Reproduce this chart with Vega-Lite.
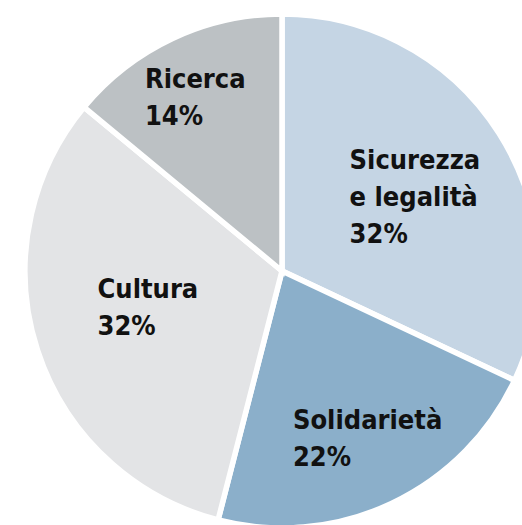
{
  "$schema": "https://vega.github.io/schema/vega-lite/v6.json",
  "width": 480,
  "height": 508,
  "autosize": {"type": "none"},
  "padding": {"left": 42, "top": 17, "right": 0, "bottom": 0},
  "background": "white",
  "config": {"view": {"stroke": null}},
  "data": {
    "values": [
      {"category": "Sicurezza e legalità", "label": ["Sicurezza", "e legalità", "32%"], "value": 32, "rank": 1},
      {"category": "Solidarietà", "label": ["Solidarietà", "22%"], "value": 22, "rank": 2},
      {"category": "Cultura", "label": ["Cultura", "32%"], "value": 32, "rank": 3},
      {"category": "Ricerca", "label": ["Ricerca", "14%"], "value": 14, "rank": 4}
    ]
  },
  "layer": [
    {
      "mark": {"type": "arc", "outerRadius": 257, "stroke": "white", "strokeWidth": 5.5},
      "encoding": {
        "theta": {"field": "value", "type": "quantitative", "stack": true},
        "order": {"field": "rank", "type": "quantitative"},
        "color": {
          "field": "category",
          "type": "nominal",
          "scale": {
            "domain": ["Sicurezza e legalità", "Solidarietà", "Cultura", "Ricerca"],
            "range": ["#c5d5e4", "#8bafca", "#e3e4e6", "#bcc1c4"]
          },
          "legend": null
        }
      }
    },
    {
      "mark": {
        "type": "text",
        "align": "left",
        "baseline": "middle",
        "font": "DejaVu Sans Condensed, Roboto, Liberation Sans",
        "fontWeight": "bold",
        "fontSize": 27,
        "lineHeight": 37,
        "fill": "#111111",
        "radius": {"expr": "datum.rank == 1 ? 144 : datum.rank == 2 ? 183 : datum.rank == 3 ? 113 : 188"},
        "dx": {"expr": "datum.rank == 1 ? -54 : datum.rank == 2 ? -67 : datum.rank == 3 ? -77 : -57"},
        "dy": {"expr": "datum.rank == 1 ? -33 : datum.rank == 4 ? -21 : -16"}
      },
      "encoding": {
        "theta": {"field": "value", "type": "quantitative", "stack": true},
        "order": {"field": "rank", "type": "quantitative"},
        "text": {"field": "label"}
      }
    }
  ]
}
